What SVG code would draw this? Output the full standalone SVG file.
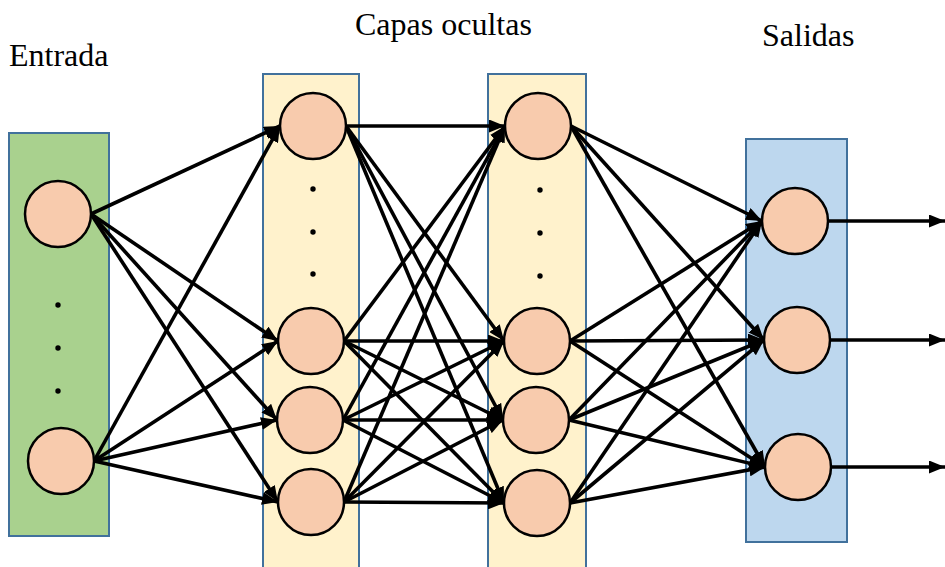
<svg xmlns="http://www.w3.org/2000/svg" width="945" height="567" viewBox="0 0 945 567">
<style>
.lbl{font-family:"Liberation Serif","Times New Roman",serif;font-size:32px;fill:#000}
.n{fill:#F8CBAD;stroke:#000;stroke-width:2.5}
.box{stroke:#41719C;stroke-width:2}
.dot{fill:#000}
#connectors line{stroke:#000;stroke-width:3.6;marker-end:url(#ah)}
</style>
<defs>
<marker id="ah" markerUnits="userSpaceOnUse" viewBox="0 0 16 13" refX="16" refY="6.5" markerWidth="16" markerHeight="13" orient="auto">
<path d="M0,0 L16,6.5 L0,13 Z" fill="#000"/>
</marker>
</defs>
<rect width="945" height="567" fill="#fff"/>
<g id="layers">
<rect id="box-input" class="box" x="9" y="133" width="100" height="403" fill="#A9D18E"/>
<rect id="box-hidden1" class="box" x="263" y="74" width="96" height="500" fill="#FFF2CC"/>
<rect id="box-hidden2" class="box" x="488" y="74" width="98" height="500" fill="#FFF2CC"/>
<rect id="box-output" class="box" x="746" y="139" width="101" height="403" fill="#BDD7EE"/>
</g>
<g id="labels">
<text class="lbl" x="9" y="66">Entrada</text>
<text class="lbl" x="355" y="35">Capas ocultas</text>
<text class="lbl" x="762" y="46">Salidas</text>
</g>
<g id="dots">
<circle class="dot" cx="58" cy="305" r="2.7"/><circle class="dot" cx="58" cy="348" r="2.7"/><circle class="dot" cx="58" cy="391" r="2.7"/>
<circle class="dot" cx="313" cy="189" r="2.7"/><circle class="dot" cx="313" cy="232" r="2.7"/><circle class="dot" cx="313" cy="274" r="2.7"/>
<circle class="dot" cx="540" cy="190" r="2.7"/><circle class="dot" cx="540" cy="233" r="2.7"/><circle class="dot" cx="540" cy="276" r="2.7"/>
</g>
<g id="connectors">
<!-- input -> hidden1 -->
<line x1="91" y1="214" x2="280" y2="126"/>
<line x1="91" y1="214" x2="278" y2="341"/>
<line x1="91" y1="214" x2="277" y2="420"/>
<line x1="91" y1="214" x2="278" y2="502"/>
<line x1="94" y1="461" x2="280" y2="126"/>
<line x1="94" y1="461" x2="278" y2="341"/>
<line x1="94" y1="461" x2="277" y2="420"/>
<line x1="94" y1="461" x2="278" y2="502"/>
<!-- hidden1 -> hidden2 -->
<line x1="346" y1="126" x2="505" y2="126"/>
<line x1="346" y1="126" x2="504" y2="341"/>
<line x1="346" y1="126" x2="503" y2="420"/>
<line x1="346" y1="126" x2="504" y2="503"/>
<line x1="344" y1="341" x2="505" y2="126"/>
<line x1="344" y1="341" x2="504" y2="341"/>
<line x1="344" y1="341" x2="503" y2="420"/>
<line x1="344" y1="341" x2="504" y2="503"/>
<line x1="343" y1="420" x2="505" y2="126"/>
<line x1="343" y1="420" x2="504" y2="341"/>
<line x1="343" y1="420" x2="503" y2="420"/>
<line x1="343" y1="420" x2="504" y2="503"/>
<line x1="344" y1="502" x2="505" y2="126"/>
<line x1="344" y1="502" x2="504" y2="341"/>
<line x1="344" y1="502" x2="503" y2="420"/>
<line x1="344" y1="502" x2="504" y2="503"/>
<!-- hidden2 -> output -->
<line x1="571" y1="126" x2="762" y2="221"/>
<line x1="571" y1="126" x2="764" y2="340"/>
<line x1="571" y1="126" x2="765" y2="467"/>
<line x1="570" y1="341" x2="762" y2="221"/>
<line x1="570" y1="341" x2="764" y2="340"/>
<line x1="570" y1="341" x2="765" y2="467"/>
<line x1="569" y1="420" x2="762" y2="221"/>
<line x1="569" y1="420" x2="764" y2="340"/>
<line x1="569" y1="420" x2="765" y2="467"/>
<line x1="570" y1="503" x2="762" y2="221"/>
<line x1="570" y1="503" x2="764" y2="340"/>
<line x1="570" y1="503" x2="765" y2="467"/>
<!-- outputs -->
<line x1="828" y1="221" x2="945" y2="221"/>
<line x1="830" y1="340" x2="945" y2="340"/>
<line x1="831" y1="467" x2="945" y2="467"/>
</g>
<g id="in1"><circle class="n" cx="58" cy="214" r="33"/></g>
<g id="in2"><circle class="n" cx="61" cy="461" r="33"/></g>
<g id="h1a"><circle class="n" cx="313" cy="126" r="33"/></g>
<g id="h1b"><circle class="n" cx="311" cy="341" r="33"/></g>
<g id="h1c"><circle class="n" cx="310" cy="420" r="33"/></g>
<g id="h1d"><circle class="n" cx="311" cy="502" r="33"/></g>
<g id="h2a"><circle class="n" cx="538" cy="126" r="33"/></g>
<g id="h2b"><circle class="n" cx="537" cy="341" r="33"/></g>
<g id="h2c"><circle class="n" cx="536" cy="420" r="33"/></g>
<g id="h2d"><circle class="n" cx="537" cy="503" r="33"/></g>
<g id="o1"><circle class="n" cx="795" cy="221" r="33"/></g>
<g id="o2"><circle class="n" cx="797" cy="340" r="33"/></g>
<g id="o3"><circle class="n" cx="798" cy="467" r="33"/></g>
</svg>
